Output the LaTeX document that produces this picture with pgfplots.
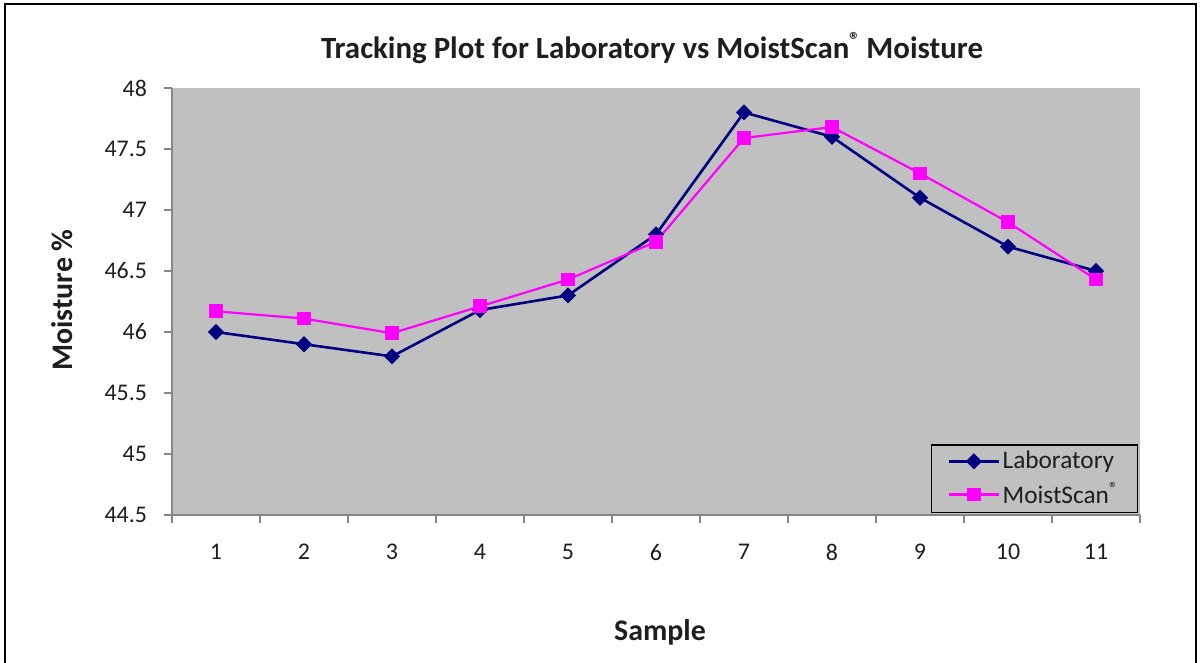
\documentclass[border=0pt]{standalone}
\usepackage{pgfplots}
\pgfplotsset{compat=1.18}
\usepackage{fontspec}
\setmainfont{Carlito}
\definecolor{labblue}{RGB}{0,0,128}
\definecolor{msmag}{RGB}{255,0,255}
\definecolor{plotgray}{RGB}{192,192,192}
\definecolor{axgray}{RGB}{134,134,134}
\definecolor{txt}{RGB}{30,30,30}
\begin{document}
\begin{tikzpicture}
\useasboundingbox (0,0) rectangle (600.5bp,331.5bp);
\draw[line width=1.2bp] (2.5bp,-2bp) -- (2.5bp,329.5bp) -- (598bp,329.5bp) -- (598bp,-2bp);
\node[font=\bfseries\fontsize{15.5}{18}\selectfont, text=txt] at (326bp,307.5bp) {Tracking Plot for Laboratory vs MoistScan\textsuperscript{®}\,Moisture};
\node[font=\bfseries\fontsize{15}{18}\selectfont, text=txt, rotate=90] at (31bp,181.5bp) {Moisture \%};
\node[font=\bfseries\fontsize{15}{18}\selectfont, text=txt] at (330bp,15.5bp) {Sample};
\begin{axis}[
 at={(86bp,74bp)}, anchor=south west,
 scale only axis, width=484bp, height=213.5bp,
 xmin=0.5, xmax=11.5, ymin=44.5, ymax=48,
 axis lines*=left,
 axis line style={axgray, line width=0.8bp},
 axis background/.style={fill=plotgray},
 xtick={1,...,11},
 minor xtick={0.5,1.5,...,11.5},
 major x tick style={draw=none},
 minor x tick style={axgray, line width=0.7bp},
 ytick={44.5,45,45.5,46,46.5,47,47.5,48},
 y tick style={axgray, line width=0.7bp},
 tick align=outside,
 major tick length=4bp, minor tick length=4bp,
 /pgf/number format/assume math mode=true,
 tick label style={font=\fontsize{12}{14}\selectfont, text=txt},
 xticklabel style={yshift=-7bp},
 yticklabel style={xshift=-5bp},
 legend style={at={(1,0)}, anchor=south east, xshift=-1bp, yshift=1bp,
   fill=plotgray, draw=black, line width=0.6bp, font=\fontsize{12.7}{14}\selectfont,
   text=txt, row sep=1.5bp, inner xsep=8bp, inner ysep=1bp,
   nodes={inner xsep=1.2bp}},
 legend cell align=left,
 legend image code/.code={\draw[mark repeat=2, mark phase=2, #1] plot coordinates {(0bp,0bp) (12.5bp,0bp) (25bp,0bp)};},
]
\addplot[labblue, line width=1.3bp, mark=square*, mark size=2.2bp, mark options={rotate=45}] coordinates {
(1,46.0) (2,45.9) (3,45.8) (4,46.18) (5,46.3) (6,46.8) (7,47.8) (8,47.6) (9,47.1) (10,46.7) (11,46.5)};
\addlegendentry{Laboratory\hspace{4bp}}
\addplot[msmag, line width=1.1bp, mark=square*, mark size=2.9bp] coordinates {
(1,46.17) (2,46.11) (3,45.99) (4,46.21) (5,46.43) (6,46.74) (7,47.59) (8,47.68) (9,47.30) (10,46.9) (11,46.43)};
\addlegendentry{MoistScan\textsuperscript{®}}
\end{axis}
\end{tikzpicture}
\end{document}
